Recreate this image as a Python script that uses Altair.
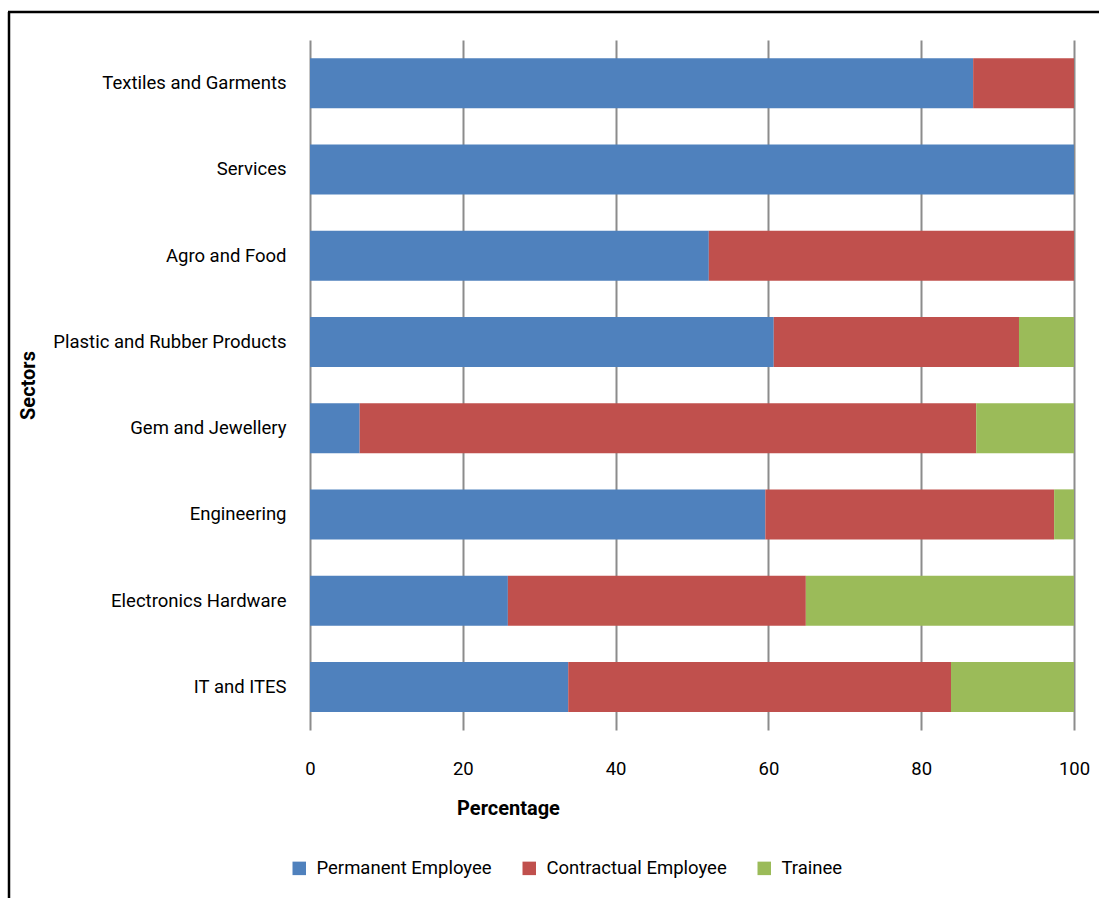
import altair as alt
import pandas as pd

# Sectors listed top to bottom
sectors = [
    "Textiles and Garments",
    "Services",
    "Agro and Food",
    "Plastic and Rubber Products",
    "Gem and Jewellery",
    "Engineering",
    "Electronics Hardware",
    "IT and ITES",
]
series = ["Permanent Employee", "Contractual Employee", "Trainee"]
colors = ["#4F81BD", "#C0504D", "#9BBB59"]

permanent = [86.8, 100.0, 52.2, 60.7, 6.5, 59.6, 25.9, 33.8]
contractual = [13.2, 0.0, 47.8, 32.1, 80.7, 37.8, 39.0, 50.1]
trainee = [0.0, 0.0, 0.0, 7.2, 12.8, 2.6, 35.1, 16.1]
x_ticks = [0, 20, 40, 60, 80, 100]

rows = []
for values, name, rank in zip([permanent, contractual, trainee], series, range(3)):
    for sector, v in zip(sectors, values):
        if v > 0:
            rows.append({"Sector": sector, "Type": name, "Value": v, "rank": rank})
df = pd.DataFrame(rows)

FONT = "Roboto"
FS = 18.5
TFS = 20
W, H = 764, 690

bars = alt.Chart(df).mark_bar(size=50).encode(
    y=alt.Y(
        "Sector:N",
        sort=sectors,
        scale=alt.Scale(paddingInner=0.42, paddingOuter=0.21),
        axis=alt.Axis(
            title="Sectors",
            titleFont=FONT,
            titleFontSize=TFS,
            titleFontWeight="bold",
            titleColor="black",
            titleAngle=270,
            titleAlign="center",
            titleBaseline="middle",
            titleX=-282,
            titleY=H / 2,
            labelFont=FONT,
            labelFontSize=FS,
            labelColor="black",
            labelPadding=24,
            labelLimit=400,
            ticks=False,
            domain=False,
            grid=False,
        ),
    ),
    x=alt.X(
        "Value:Q",
        stack="zero",
        scale=alt.Scale(domain=[0, 100], nice=False),
        axis=alt.Axis(
            title="Percentage",
            titleFont=FONT,
            titleFontSize=TFS,
            titleFontWeight="bold",
            titleColor="black",
            titleX=198,
            titleY=78,
            titleAlign="center",
            titleBaseline="middle",
            values=x_ticks,
            labelFont=FONT,
            labelFontSize=FS,
            labelColor="black",
            labelPadding=29,
            labelFlush=False,
            ticks=False,
            domain=False,
            grid=True,
            gridColor="#8C8C8C",
            gridWidth=2,
        ),
    ),
    color=alt.Color(
        "Type:N",
        scale=alt.Scale(domain=series, range=colors),
        legend=alt.Legend(
            title=None,
            orient="none",
            direction="horizontal",
            legendX=-20,
            legendY=819,
            symbolType="square",
            symbolSize=182,
            symbolStrokeWidth=0,
            symbolOpacity=1,
            labelFont=FONT,
            labelFontSize=FS,
            labelColor="black",
            labelOffset=8,
            labelLimit=400,
            columnPadding=28,
        ),
    ),
    order=alt.Order("rank:Q", sort="ascending"),
)

frame_df = pd.DataFrame({"k": [0]})
left_edge = alt.Chart(frame_df).mark_rule(color="black", strokeWidth=2.5).encode(
    x=alt.value(-301),
    y=alt.value(-28),
    y2=alt.value(900 - 40),
)
top_edge = alt.Chart(frame_df).mark_rule(color="black", strokeWidth=2.5).encode(
    y=alt.value(-28),
    x=alt.value(-302),
    x2=alt.value(1100 - 310),
)

chart = (
    alt.layer(bars, left_edge, top_edge)
    .properties(
        width=W,
        height=H,
        autosize=alt.AutoSizeParams(type="none"),
        padding={"left": 310, "top": 40, "right": 25, "bottom": 168},
        background="white",
    )
    .configure_view(stroke=None)
)

chart.save("out.html", embed_options={"renderer": "svg", "actions": False})
